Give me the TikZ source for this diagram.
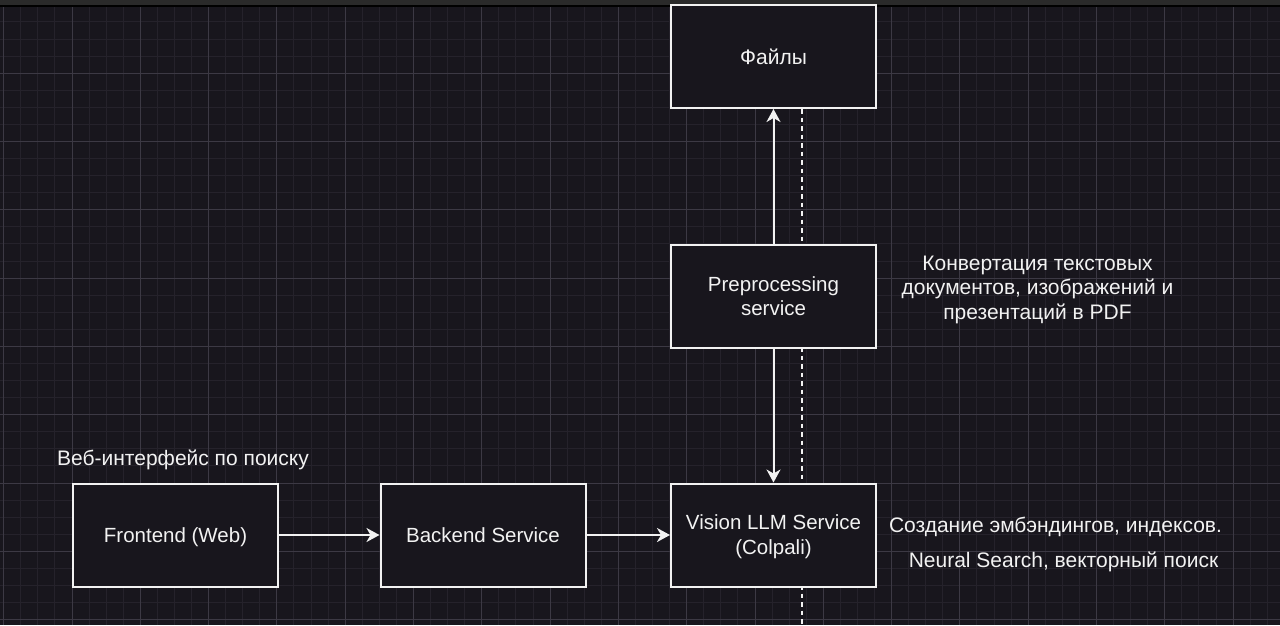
\documentclass[tikz,border=0pt]{standalone}
\usepackage{fontspec}
\setmainfont{Liberation Sans}
\usetikzlibrary{arrows.meta,backgrounds}
\definecolor{bg}{HTML}{18161D}
\definecolor{gminor}{HTML}{25222B}
\definecolor{gmajor}{HTML}{3C3944}
\definecolor{fg}{HTML}{F2F2F2}
\definecolor{topbar}{HTML}{2A2A2A}
\tikzset{
  box/.style={draw=fg, line width=2pt, fill=bg, minimum width=205pt, minimum height=103pt,
    inner sep=0pt},
  lbl/.style={inner sep=0pt, align=center, text=fg, font=\fontsize{20.5pt}{24.5pt}\selectfont},
  cyr/.style={lbl, font=\fontsize{21pt}{24.5pt}\selectfont},
  arr/.style={draw=fg, line width=2pt, -{Stealth[length=13pt,width=14pt,inset=4pt]}},
  dashline/.style={draw=fg, line width=1.5pt, dash pattern=on 4.5pt off 4pt}
}
\begin{document}
\begin{tikzpicture}[x=1pt,y=-1pt]
\useasboundingbox (0,0) rectangle (1280,625);

\node[box, label={[cyr,yshift=-0.5pt]center:Файлы}] (files) at (773.5,56.5) {};
\node[box, label={[lbl]center:Preprocessing\\service}] (prep) at (773.5,296) {};
\node[box, label={[lbl,yshift=-1.5pt]center:Vision LLM Service\\(Colpali)}] (vision) at (773.5,535) {};
\node[box, label={[lbl,yshift=-2pt]center:Frontend (Web)}] (front) at (175.5,535) {};
\node[box, label={[lbl]center:Backend Service}] (back) at (483,535) {};

\node[cyr] (lfront) at (183,460) {Веб-интерфейс по поиску};
\node[cyr] (lprep) at (1037.5,289.5) {Конвертация текстовых\\документов, изображений и\\презентаций в PDF};
\node[cyr] (lvis1) at (1055.5,527) {Создание эмбэндингов, индексов.};
\node[cyr] (lvis2) at (1063.5,562) {Neural Search, векторный поиск};

\draw[arr] (front) -- (back);
\draw[arr] (back) -- (vision);
\draw[arr] (prep) -- (files);
\draw[arr] (prep) -- (vision);

\coordinate (dend) at (802,625);
\begin{scope}[on background layer]
  \fill[bg] (0,0) rectangle (1280,625);
  \foreach \i in {0,...,75} {\draw[gminor, line width=1pt] ({3.7+17.075*\i},6) -- ({3.7+17.075*\i},625);}
  \foreach \i in {1,...,36} {\draw[gminor, line width=1pt] (0,{4.9+17.075*\i}) -- (1280,{4.9+17.075*\i});}
  \foreach \i in {0,...,18} {\draw[gmajor, line width=1pt] ({3.7+68.3*\i},6) -- ({3.7+68.3*\i},625);}
  \foreach \i in {1,...,9} {\draw[gmajor, line width=1pt] (0,{4.9+68.3*\i}) -- (1280,{4.9+68.3*\i});}
  \fill[topbar] (0,0) rectangle (1280,4.5);
  \fill[black] (0,4.5) rectangle (1280,6.5);
  \draw[dashline] (files.south -| dend) -- (dend);
\end{scope}
\end{tikzpicture}
\end{document}
